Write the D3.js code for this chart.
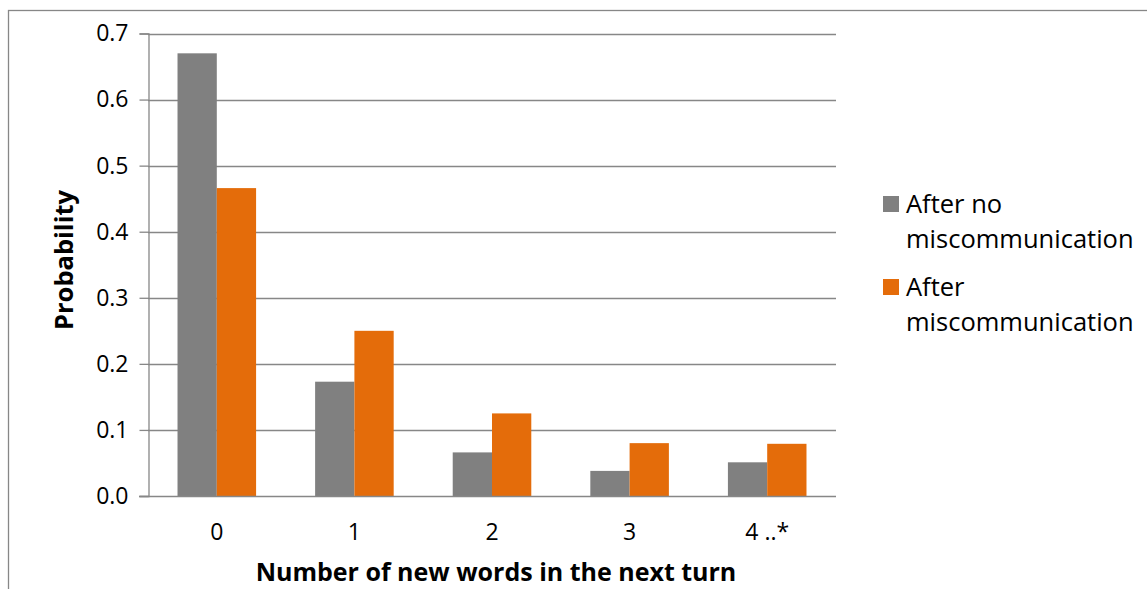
<!DOCTYPE html>
<html>
<head>
<meta charset="utf-8">
<script src="https://cdn.jsdelivr.net/npm/d3@7"></script>
<style>
  html, body { margin: 0; padding: 0; background: #fff; }
  svg { display: block; font-family: "Open Sans", sans-serif; }
</style>
</head>
<body>
<svg id="chart" width="1147" height="589"></svg>
<script>
// Probability of new words in the next turn, by preceding turn outcome
const categories = ["0", "1", "2", "3", "4 ..*"];
const seriesNames = ["After no miscommunication", "After miscommunication"];
const afterNoMiscommunication = [0.67, 0.173, 0.066, 0.038, 0.051];
const afterMiscommunication = [0.466, 0.25, 0.125, 0.08, 0.079];
const yTicks = [0.0, 0.1, 0.2, 0.3, 0.4, 0.5, 0.6, 0.7];
const seriesColors = ["#808080", "#E46C0A"];

const seriesValues = [afterNoMiscommunication, afterMiscommunication];
const rows = categories.map((c, i) => ({
  category: c,
  values: seriesNames.map((s, j) => ({ series: s, index: j, value: seriesValues[j][i] }))
}));

const svg = d3.select("#chart");
const plot = { left: 148, right: 836, top: 33.5, bottom: 496 };
const gridColor = "#878787";
const tickFont = 23;

// outer chart frame (only top and left edges fall inside the view)
svg.append("rect")
  .attr("x", 8.5).attr("y", 10.5)
  .attr("width", 1200).attr("height", 700)
  .attr("fill", "none").attr("stroke", gridColor).attr("stroke-width", 1.3);

const x = d3.scaleBand().domain(categories)
  .range([plot.left, plot.right])
  .paddingInner(0.429).paddingOuter(0.2145);
const xs = d3.scaleBand().domain(d3.range(seriesNames.length))
  .range([0, x.bandwidth()]);
const y = d3.scaleLinear().domain([0, 0.7]).range([plot.bottom, plot.top]);

// horizontal gridlines
svg.append("g").selectAll("line").data(yTicks.slice(1)).join("line")
  .attr("x1", plot.left).attr("x2", plot.right)
  .attr("y1", d => Math.round(y(d)) + 0.5).attr("y2", d => Math.round(y(d)) + 0.5)
  .attr("stroke", gridColor).attr("stroke-width", 1.3);

// y axis with outside ticks
const yAxis = svg.append("g")
  .attr("transform", `translate(${plot.left + 0.5},0)`)
  .call(d3.axisLeft(y).tickValues(yTicks).tickFormat(d3.format(".1f"))
    .tickSize(9).tickPadding(11));
yAxis.select(".domain").attr("stroke", gridColor).attr("stroke-width", 1.3);
yAxis.selectAll(".tick line").attr("stroke", gridColor).attr("stroke-width", 1.3);
yAxis.selectAll(".tick text")
  .attr("font-family", "Open Sans").attr("font-size", tickFont).attr("fill", "#000");

// bars
svg.append("g").selectAll("g").data(rows).join("g")
  .attr("transform", d => `translate(${x(d.category)},0)`)
  .selectAll("rect").data(d => d.values).join("rect")
  .attr("x", d => xs(d.index))
  .attr("width", xs.bandwidth())
  .attr("y", d => y(d.value))
  .attr("height", d => y(0) - y(d.value))
  .attr("fill", d => seriesColors[d.index]);

// category axis baseline and labels
const xAxis = svg.append("g")
  .attr("transform", `translate(0,${Math.round(plot.bottom) + 0.5})`)
  .call(d3.axisBottom(x).tickSize(0).tickPadding(27).tickSizeOuter(0));
xAxis.select(".domain").attr("stroke", gridColor).attr("stroke-width", 1.3)
  .attr("d", `M${plot.left - 9},0H${plot.right}`);
xAxis.selectAll(".tick text")
  .attr("font-family", "Open Sans").attr("font-size", tickFont).attr("fill", "#000");

// axis titles
svg.append("text")
  .attr("x", (plot.left + plot.right) / 2 + 4).attr("y", 581)
  .attr("text-anchor", "middle")
  .attr("font-family", "Open Sans").attr("font-weight", "bold").attr("font-size", 25)
  .text("Number of new words in the next turn");

svg.append("text")
  .attr("transform", "translate(73,260) rotate(-90)")
  .attr("text-anchor", "middle")
  .attr("font-family", "Open Sans").attr("font-weight", "bold").attr("font-size", 25.5)
  .text("Probability");

// legend
const legendLines = [["After no", "miscommunication"], ["After", "miscommunication"]];
const legend = svg.append("g").selectAll("g").data(seriesNames).join("g")
  .attr("transform", (d, i) => `translate(883,${196 + i * 83})`);
legend.append("rect")
  .attr("width", 16).attr("height", 16)
  .attr("fill", (d, i) => seriesColors[i]);
legend.append("text")
  .attr("x", 23).attr("y", 16.7)
  .attr("font-family", "Open Sans").attr("font-size", 25.5).attr("fill", "#000")
  .selectAll("tspan").data((d, i) => legendLines[i]).join("tspan")
  .attr("x", 23).attr("dy", (d, k) => k === 0 ? 0 : 35.5)
  .text(d => d);
</script>
</body>
</html>
